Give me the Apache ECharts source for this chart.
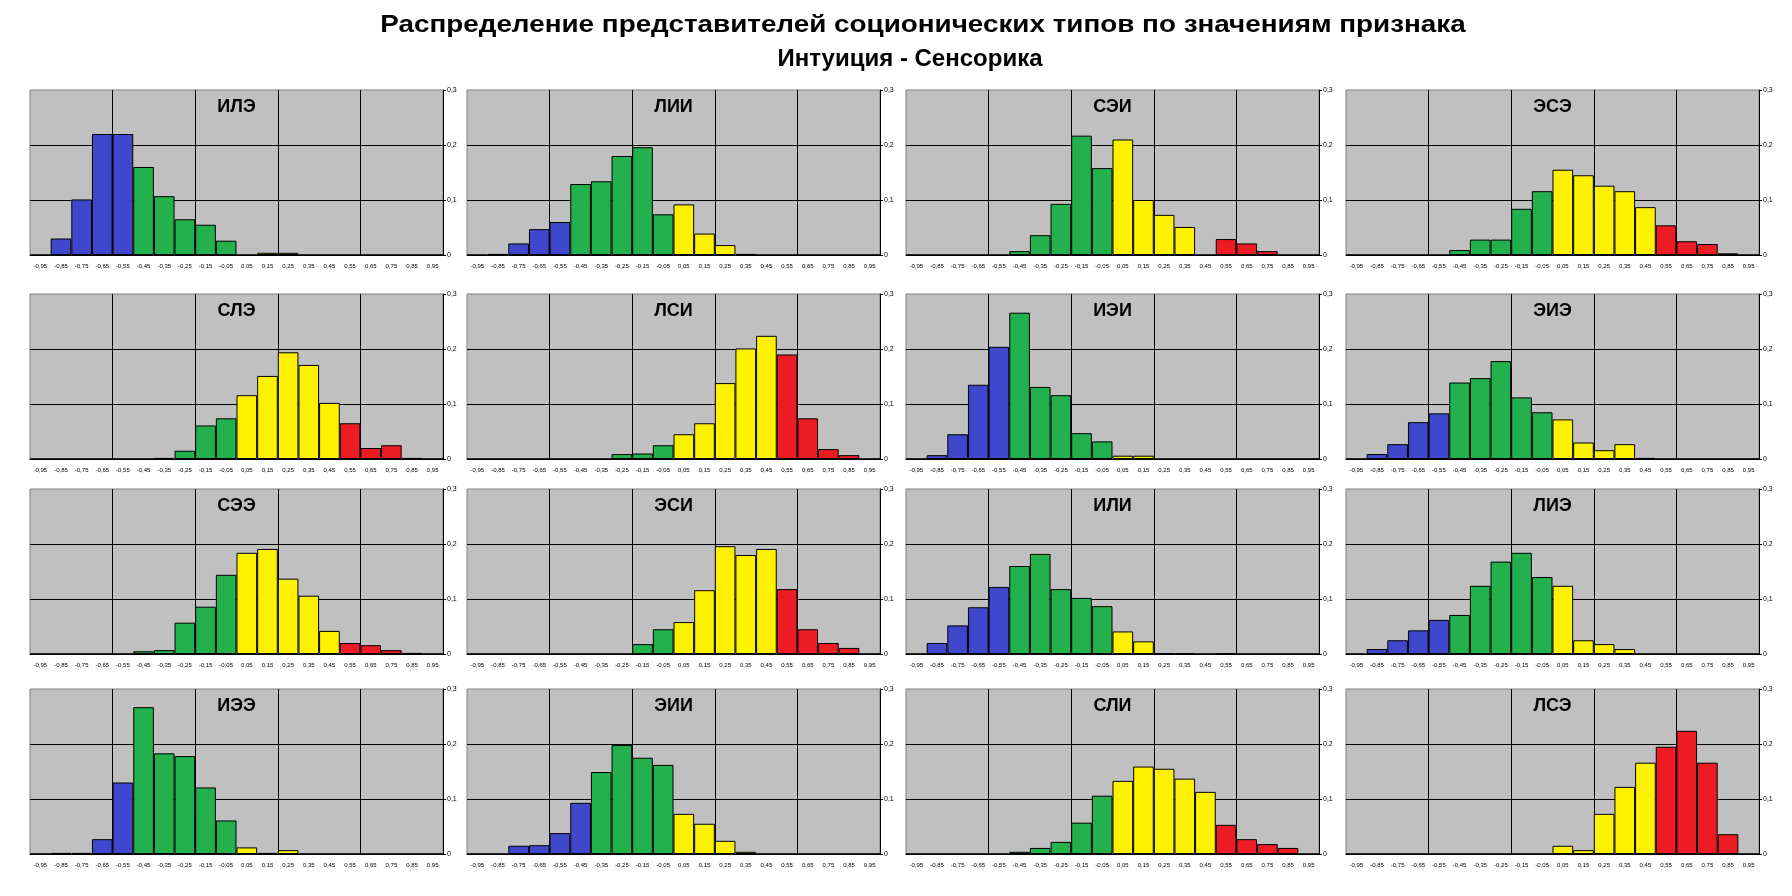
<!DOCTYPE html>
<html>
<head>
<meta charset="utf-8">
<script src="https://cdn.jsdelivr.net/npm/echarts@6/dist/echarts.min.js"></script>
<style>
html,body{margin:0;padding:0;background:#fff;}
#chart{width:1792px;height:896px;}
</style>
</head>
<body>
<div id="chart"></div>
<script>
// ---- data ----
const titleLines = ['Распределение представителей соционических типов по значениям признака', 'Интуиция - Сенсорика'];
const categories = ['-0,95','-0,85','-0,75','-0,65','-0,55','-0,45','-0,35','-0,25','-0,15','-0,05',
                    '0,05','0,15','0,25','0,35','0,45','0,55','0,65','0,75','0,85','0,95'];
const yTicks = [0, 0.1, 0.2, 0.3];
const typeNames = ['ИЛЭ','ЛИИ','СЭИ','ЭСЭ','СЛЭ','ЛСИ','ИЭИ','ЭИЭ','СЭЭ','ЭСИ','ИЛИ','ЛИЭ','ИЭЭ','ЭИИ','СЛИ','ЛСЭ'];

const ILE = [0,0.030,0.101,0.220,0.220,0.160,0.107,0.065,0.055,0.026,0,0.004,0.004,0,0,0,0,0,0,0];
const LII = [0,0.002,0.021,0.047,0.060,0.129,0.134,0.180,0.196,0.074,0.092,0.039,0.018,0.002,0,0,0,0,0,0];
const SEI = [0,0,0,0,0,0.007,0.036,0.093,0.217,0.158,0.210,0.100,0.073,0.051,0,0.029,0.021,0.007,0,0];
const ESE = [0,0,0,0,0,0.009,0.028,0.028,0.084,0.116,0.155,0.145,0.126,0.116,0.087,0.054,0.025,0.020,0.003,0];
const SLE = [0,0,0,0,0,0,0.002,0.015,0.061,0.074,0.116,0.151,0.194,0.171,0.102,0.065,0.020,0.025,0.002,0];
const LSI = [0,0,0,0,0,0,0,0.009,0.010,0.025,0.045,0.065,0.138,0.201,0.224,0.190,0.074,0.018,0.007,0];
const IEI = [0,0.007,0.045,0.135,0.204,0.266,0.131,0.116,0.047,0.032,0.006,0.006,0,0,0,0,0,0,0,0];
const EIE = [0,0.009,0.027,0.067,0.083,0.139,0.147,0.178,0.112,0.085,0.072,0.030,0.016,0.027,0.002,0,0,0,0,0];
const SEE = [0,0,0,0,0,0.005,0.007,0.057,0.086,0.144,0.184,0.191,0.137,0.106,0.042,0.020,0.016,0.007,0.002,0];
const ESI = [0,0,0,0,0,0,0,0,0.018,0.045,0.058,0.116,0.196,0.180,0.191,0.118,0.045,0.020,0.011,0];
const ILI = [0,0.020,0.052,0.085,0.122,0.160,0.182,0.118,0.102,0.087,0.041,0.023,0.001,0.001,0,0.001,0,0,0,0];
const LIE = [0,0.009,0.025,0.043,0.062,0.071,0.124,0.168,0.184,0.140,0.124,0.025,0.018,0.009,0,0,0,0,0,0];
const IEE = [0,0.002,0.002,0.027,0.130,0.267,0.183,0.178,0.121,0.061,0.012,0.002,0.007,0,0,0,0,0,0,0];
const EII = [0,0,0.015,0.016,0.038,0.093,0.149,0.198,0.175,0.162,0.073,0.055,0.024,0.004,0,0,0,0,0,0];
const SLI = [0,0,0,0,0,0.004,0.011,0.022,0.057,0.106,0.133,0.159,0.155,0.137,0.113,0.053,0.027,0.018,0.011,0];
const LSE = [0,0,0,0,0,0,0,0,0,0,0.015,0.007,0.073,0.122,0.166,0.195,0.224,0.166,0.036,0];

const panelValues = [ILE, LII, SEI, ESE, SLE, LSI, IEI, EIE, SEE, ESI, ILI, LIE, IEE, EII, SLI, LSE];
// first category index of green / yellow / red group (blue before)
const defaultSplits = [5, 10, 15];
const splitOverrides = { 'ЭИИ': [6, 10, 15] };

// ---- styling / layout ----
const FONT = '"Liberation Sans", Arial, sans-serif';
const groupColors = ['#3F48CC', '#22B14C', '#FFF200', '#ED1C24'];
const colLefts = [30, 467, 906, 1346];
const rowTops = [90, 294, 489, 689];
const PW = 413, PH = 165;
const titlePos = [{ x: 923, y: 25, sx: 1.16 }, { x: 910, y: 59, sx: 1 }];

const grids = [], xAxes = [], yAxes = [], series = [], graphics = [];

titleLines.forEach((t, i) => {
  graphics.push({
    type: 'text', x: titlePos[i].x, y: titlePos[i].y, scaleX: titlePos[i].sx, silent: true,
    style: { text: t, fill: '#000', font: 'bold 24px ' + FONT,
             textAlign: 'center', textVerticalAlign: 'middle', align: 'center', verticalAlign: 'middle' }
  });
});

panelValues.forEach((vals, i) => {
  const r = Math.floor(i / 4), c = i % 4;
  const left = colLefts[c], top = rowTops[r];
  const splits = splitOverrides[typeNames[i]] || defaultSplits;
  grids.push({
    left: left, top: top, width: PW, height: PH, show: true,
    backgroundColor: '#C0C0C0', borderColor: '#808080', borderWidth: 1
  });
  xAxes.push({
    type: 'category', gridIndex: i, data: categories, boundaryGap: true,
    axisLine: { show: true, lineStyle: { color: '#000', width: 1 } },
    axisTick: { show: false },
    axisLabel: { interval: 0, fontSize: 6, color: '#000', margin: 8, fontFamily: FONT },
    splitLine: { show: true, interval: (idx) => idx % 4 === 0,
                 showMinLine: false, showMaxLine: false,
                 lineStyle: { color: '#000', width: 1 } }
  });
  yAxes.push({
    type: 'value', gridIndex: i, position: 'right',
    min: yTicks[0], max: yTicks[yTicks.length - 1], interval: yTicks[1] - yTicks[0],
    axisLine: { show: true, lineStyle: { color: '#000', width: 1 } },
    axisTick: { show: true, length: 3, inside: false, lineStyle: { color: '#000' } },
    axisLabel: { fontSize: 7, color: '#000', margin: 4, fontFamily: FONT,
                 formatter: v => v === 0 ? '0' : v.toFixed(1).replace('.', ',') },
    splitLine: { show: true, showMinLine: false, showMaxLine: false, lineStyle: { color: '#000', width: 1 } }
  });
  series.push({
    type: 'bar', xAxisIndex: i, yAxisIndex: i, data: vals,
    barCategoryGap: '0%', silent: true,
    itemStyle: {
      borderColor: '#000', borderWidth: 1,
      color: p => {
        let g = 0;
        while (g < splits.length && p.dataIndex >= splits[g]) g++;
        return groupColors[g];
      }
    }
  });
  graphics.push({
    type: 'text', x: left + PW / 2, y: top + 17, silent: true, z: 100,
    style: { text: typeNames[i], fill: '#000', font: 'bold 18px ' + FONT,
             textAlign: 'center', textVerticalAlign: 'middle', align: 'center', verticalAlign: 'middle' }
  });
});

const chart = echarts.init(document.getElementById('chart'), null, { renderer: 'canvas' });
chart.setOption({
  backgroundColor: '#fff',
  animation: false,
  grid: grids, xAxis: xAxes, yAxis: yAxes, series: series,
  graphic: { elements: graphics }
});
</script>
</body>
</html>
